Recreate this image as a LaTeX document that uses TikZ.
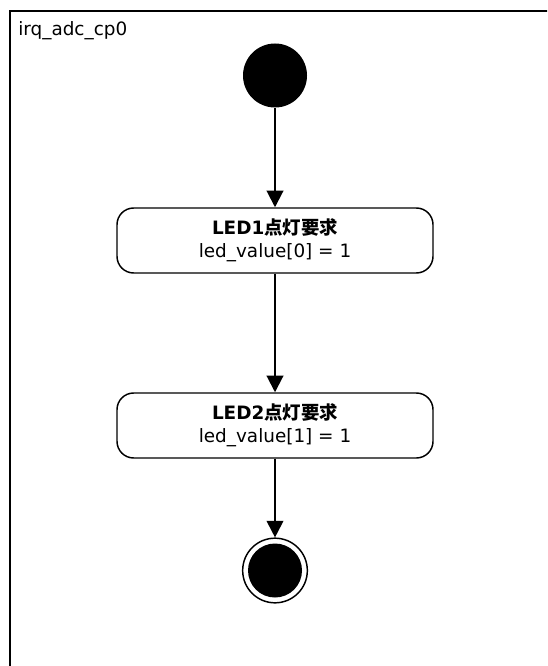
\documentclass[tikz,border=0pt]{standalone}
\usepackage{fontspec}
\setmainfont{DejaVu Sans}
\newfontfamily\cjk{Noto Sans CJK JP}
\usetikzlibrary{arrows.meta}
\tikzset{
  framestyle/.style={line width=1.5pt, draw=black},
  initstate/.style={circle, fill=black, inner sep=0pt, minimum size=48pt},
  actstate/.style={rectangle, draw=black, line width=1.1pt, rounded corners=12.5pt,
    minimum width=237pt, minimum height=48.75pt, align=center, inner sep=0pt,
    font=\fontsize{13.8pt}{17.25pt}\selectfont},
  finalouter/.style={circle, draw=black, line width=1.1pt, fill=white, inner sep=0pt, minimum size=48.5pt},
  finalinner/.style={circle, fill=black, inner sep=0pt, minimum size=40.5pt},
  flow/.style={line width=1.5pt, -{Triangle[length=12.5pt, width=12.5pt]}},
  titletext/.style={anchor=base west, inner sep=0pt, font=\fontsize{13.8pt}{17pt}\selectfont}
}
\begin{document}
\begin{tikzpicture}[x=0.75pt, y=-0.75pt]
\useasboundingbox (0,0) rectangle (547,666);
\clip (0,0) rectangle (547,666);
\fill[white] (0,0) rectangle (547,666);
\draw[framestyle] (9.5,680) -- (9.5,11.5) -- (560,11.5);
\node[titletext] (title) at (18,36) {irq\_adc\_cp0};
\node[initstate] (start) at (275,75.5) {};
\node[actstate] (s1) at (275,240.5) {{\bfseries LED1{\cjk 点灯要求}}\\led\_value[0] = 1};
\node[actstate] (s2) at (275,425.5) {{\bfseries LED2{\cjk 点灯要求}}\\led\_value[1] = 1};
\node[finalouter] (fin) at (275,570.5) {};
\node[finalinner] (fincore) at (fin.center) {};
\draw[flow] (start) -- (s1);
\draw[flow] (s1) -- (s2);
\draw[flow] (s2) -- (fin);
\end{tikzpicture}
\end{document}
